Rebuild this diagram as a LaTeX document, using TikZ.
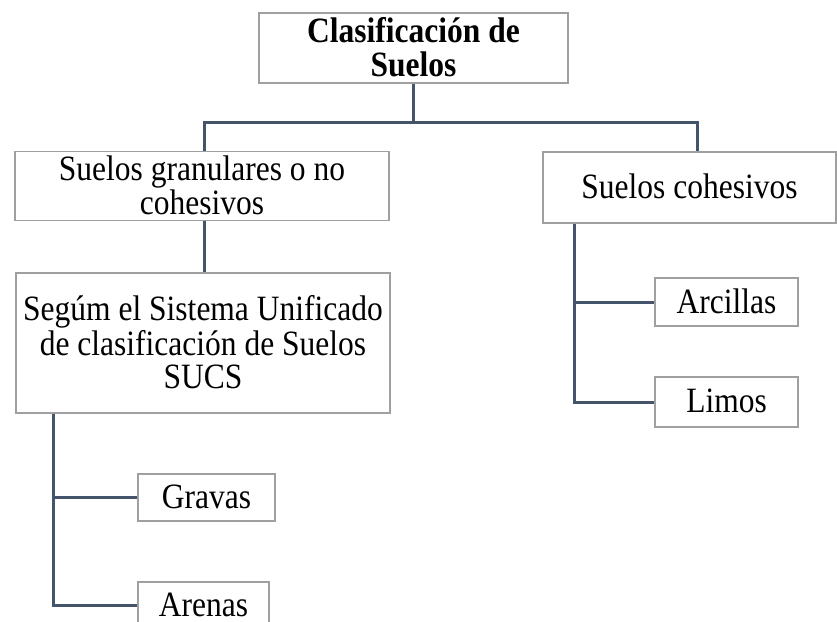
\documentclass[tikz,border=0pt]{standalone}
\usepackage{fontspec}
\usepackage{graphicx}
\setmainfont{Liberation Serif}
\definecolor{conncol}{RGB}{68,84,106}
\definecolor{boxgray}{RGB}{160,160,160}
\newcommand{\vtext}[1]{\raisebox{-4pt}[\height][\depth]{\scalebox{1}[1.13]{\begin{tabular}{@{}c@{}}#1\end{tabular}}}}
\tikzset{
  box/.style={draw=boxgray, line width=1.2pt, fill=white, align=center, inner sep=0pt,
    font=\fontsize{31.5}{29.5}\selectfont},
  conn/.style={draw=conncol, line width=3pt}
}
\begin{document}
\begin{tikzpicture}[x=1pt,y=-1pt]
\useasboundingbox (0,0) rectangle (837,621);
\clip (0,0) rectangle (837,621);
\coordinate (jl) at (204,122);
\coordinate (jr) at (697,122);
\coordinate (rv) at (574,0);
\coordinate (lv) at (53,0);
\node[box, minimum width=309pt, minimum height=70pt] (top) at (413.5,48) {\vtext{\textbf{Clasificación de}\\\textbf{Suelos}}};
\node[box, minimum width=374pt, minimum height=68pt] (gran) at (202,186) {\vtext{Suelos granulares o no\\cohesivos}};
\node[box, minimum width=293pt, minimum height=71pt] (coh) at (689.5,187.5) {\vtext{Suelos cohesivos}};
\node[box, minimum width=374pt, minimum height=140pt] (sucs) at (203,343) {\vtext{Segúm el Sistema Unificado\\de clasificación de Suelos\\SUCS}};
\node[box, minimum width=143pt, minimum height=48pt] (arc) at (726.5,302) {\vtext{Arcillas}};
\node[box, minimum width=143pt, minimum height=50pt] (lim) at (726.5,402) {\vtext{Limos}};
\node[box, minimum width=137pt, minimum height=47pt] (grav) at (206.5,497.5) {\vtext{Gravas}};
\node[box, minimum width=131pt, minimum height=47pt] (aren) at (203.5,605.5) {\vtext{Arenas}};
\draw[conn] (top.south) -- (top.south|-jl);
\draw[conn] (gran.north-|jl) -- (jl) -- (jr) -- (coh.north-|jr);
\draw[conn] (gran.south-|jl) -- (sucs.north-|jl);
\draw[conn] (coh.south-|rv) |- (arc.west);
\draw[conn] (coh.south-|rv) |- (lim.west);
\draw[conn] (sucs.south-|lv) |- (grav.west);
\draw[conn] (sucs.south-|lv) |- (aren.west);
\end{tikzpicture}
\end{document}
